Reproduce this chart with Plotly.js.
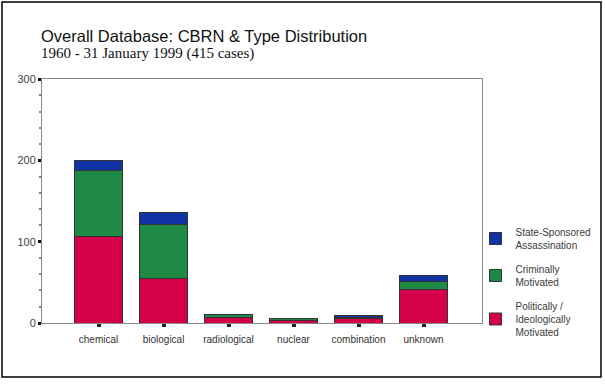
<!DOCTYPE html>
<html>
<head>
<meta charset="utf-8">
<script src="https://cdn.plot.ly/plotly-3.0.1.min.js"></script>
<style>
  html, body { margin: 0; padding: 0; background: #fff; }
  #chart { width: 605px; height: 384px; }
</style>
</head>
<body>
<div id="chart"></div>
<script>
const categories = ['chemical', 'biological', 'radiological', 'nuclear', 'combination', 'unknown'];
const political = [106, 55, 7, 3, 6, 41];
const criminal = [81, 66, 3, 3, 1, 10];
const stateSponsored = [13, 15, 0, 0, 2, 8];
const seriesNames = ['Politically /<br>Ideologically<br>Motivated', 'Criminally<br>Motivated', 'State-Sponsored<br>Assassination'];
const yTicks = [0, 100, 200, 300];
const titleText = 'Overall Database: CBRN & Type Distribution';
const subtitleText = '1960 - 31 January 1999 (415 cases)';

const colors = ['#d4004a', '#1f8a46', '#1233a6'];
const series = [political, criminal, stateSponsored];

const traces = series.map((vals, i) => ({
  type: 'bar',
  x: categories,
  y: vals,
  name: seriesNames[i],
  legendgroup: 'g' + i,
  legendrank: 3 - i,
  marker: { color: colors[i], line: { color: '#333', width: 1 } },
  hoverinfo: 'x+y+name'
}));

// pixel helpers for plot area (l=42, r=482, t=79, b=323)
const L = 42, R = 482, T = 79, B = 323;
const px = x => (x - L) / (R - L);
const py = y => (B - y) / (B - T);

const layout = {
  width: 605,
  height: 384,
  margin: { l: L, r: 605 - R, t: T, b: 384 - B, pad: 0, autoexpand: false },
  paper_bgcolor: '#fff',
  plot_bgcolor: '#fff',
  barmode: 'stack',
  bargap: 0.26,
  font: { family: 'Arial, Liberation Sans, sans-serif', color: '#333' },
  annotations: [{
    text: titleText,
    xref: 'paper', yref: 'paper',
    x: px(39), xanchor: 'left',
    y: py(36), yanchor: 'middle',
    showarrow: false,
    font: { family: 'Arial, Liberation Sans, sans-serif', size: 16.5, color: '#111' }
  }, {
    text: subtitleText,
    xref: 'paper', yref: 'paper',
    x: px(39), xanchor: 'left',
    y: py(53), yanchor: 'middle',
    showarrow: false,
    font: { family: 'Liberation Serif, Times New Roman, serif', size: 15, color: '#111' }
  }],
  xaxis: {
    type: 'category',
    range: [-0.87, 5.9],
    showline: true, linecolor: '#888', linewidth: 1, mirror: true,
    ticks: 'outside', ticklen: 3, tickwidth: 4, tickcolor: '#222',
    ticklabelstandoff: 4,
    tickfont: { size: 10, color: '#333' },
    showgrid: false, zeroline: false, fixedrange: true
  },
  yaxis: {
    range: [0, 300],
    tickvals: yTicks,
    ticktext: yTicks.map(String),
    showline: true, linecolor: '#888', linewidth: 1, mirror: true,
    ticks: 'outside', ticklen: 3, tickwidth: 3, tickcolor: '#111',
    tickfont: { size: 11, color: '#444' },
    minor: { dtick: 20, ticks: 'outside', ticklen: 2, tickwidth: 1.5, tickcolor: '#888', showgrid: false },
    showgrid: false, zeroline: false, fixedrange: true
  },
  legend: {
    x: px(475.5), xanchor: 'left',
    y: py(219), yanchor: 'top',
    bgcolor: 'rgba(0,0,0,0)',
    traceorder: 'grouped',
    tracegroupgap: 8,
    valign: 'middle',
    font: { size: 10, color: '#3a3a3a' }
  },
  shapes: [{
    type: 'rect', xref: 'paper', yref: 'paper',
    x0: px(2), x1: px(601), y0: py(377), y1: py(2),
    line: { color: '#000', width: 1.5 }, fillcolor: 'rgba(0,0,0,0)', layer: 'below'
  }]
};

Plotly.newPlot('chart', traces, layout, { displayModeBar: false });
</script>
</body>
</html>
